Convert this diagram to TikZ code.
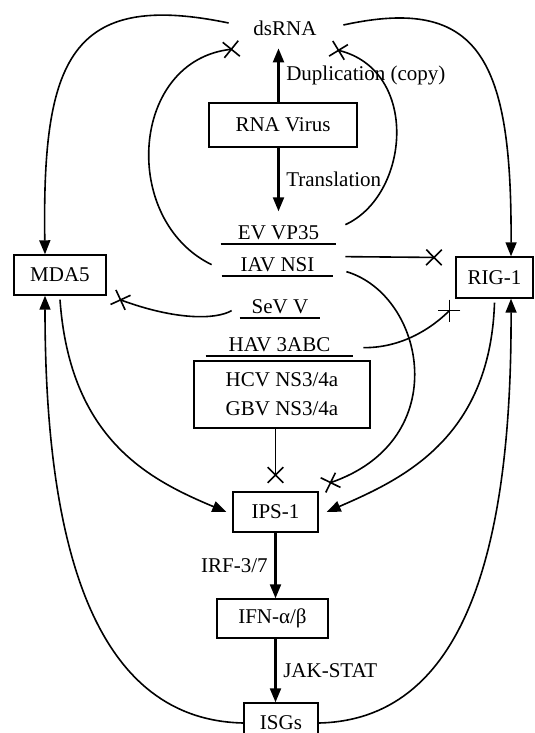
\documentclass[tikz,border=0pt]{standalone}
\usepackage{fontspec}
\setmainfont{Liberation Serif}
\usetikzlibrary{arrows.meta}

\tikzset{
  box/.style={draw, line width=0.7pt, inner sep=2pt},
  prot/.style={anchor=south, inner xsep=0pt, inner ysep=2pt, text depth=0pt,
    append after command={(\tikzlastnode.south west) edge[line width=0.9pt] (\tikzlastnode.south east)}},
  act/.style={-{Triangle[length=7pt,width=5.5pt]}, line width=0.8pt},
  inh/.style={-{Rays[n=4,length=11pt,width=11pt,line width=0.8pt]}, line width=0.8pt},
}

\begin{document}
\begin{tikzpicture}[font=\fontsize{10.5pt}{14.5pt}\selectfont, x=0.5pt, y=-0.5pt]
  \useasboundingbox (0,0) rectangle (535,733);
  % --- nodes ---
  \node[minimum width=45pt, minimum height=20pt] (dsrna) at (285,28) {dsRNA};
  \node[box, minimum width=74pt, minimum height=22pt] (virus) at (283,125) {RNA Virus};
  \node[prot, minimum width=57.5pt] (ev) at (278.5,244) {EV VP35};
  \node[prot, minimum width=55.5pt] (iav) at (277.5,276) {IAV NSI};
  \node[prot, minimum width=40pt] (sev) at (280,318) {SeV V};
  \node[prot, minimum width=73.5pt] (hav) at (279.5,356) {HAV 3ABC};
  \node[box, minimum width=88pt, minimum height=33.5pt, align=center] (hcv) at (282,394.5) {HCV NS3/4a\\GBV NS3/4a};
  \node[box, minimum width=46pt, minimum height=20pt] (mda) at (60,275) {MDA5};
  \node[box, minimum width=38.5pt, minimum height=20.5pt] (rig) at (494.5,277.5) {RIG-1};
  \node[box, minimum width=42.5pt, minimum height=20pt] (ips) at (275.5,512) {IPS-1};
  \node[box, minimum width=55.5pt, minimum height=19.5pt] (ifn) at (272.5,618.5) {IFN-α/β};
  \node[box, minimum width=37pt, minimum height=20pt] (isg) at (281,723) {ISGs};

  % --- virus ---
  \draw[act, line width=1.1pt] (virus.north -| ev) -- (dsrna.south -| ev) node[midway, right] {Duplication (copy)};
  \draw[act, line width=1.1pt] (virus.south -| ev) -- ([yshift=5pt]ev.north) node[midway, right] {Translation};

  % --- sensing ---
  \draw[act] ([shift={(-5.5pt,2.5pt)}]dsrna.west) .. controls (70,-10) and (42,60) .. ([xshift=-7.5pt]mda.north);
  \draw[act] ([shift={(6.5pt,1.5pt)}]dsrna.east) .. controls (480,-5) and (512,60) .. ([xshift=8.25pt]rig.north);
  \draw[act] ([yshift=-2pt]mda.south) .. controls (70,440) and (150,480) .. ([xshift=-3pt]ips.west);
  \draw[act] ([yshift=-2pt]rig.south) .. controls (490,440) and (400,480) .. ([xshift=4pt]ips.east);

  % --- viral antagonists ---
  \draw[inh] ([xshift=-5pt]iav.west) .. controls (120,220) and (130,60) .. (dsrna.south west);
  \draw[inh] ([shift={(4.5pt,4pt)}]ev.east) .. controls (410,195) and (420,70) .. (dsrna.south east);
  \draw[inh] ([shift={(6pt,4pt)}]iav.east) -- ([shift={(-6.5pt,10pt)}]rig.west);
  \draw[inh] ([shift={(6.5pt,-3.5pt)}]iav.east) .. controls (425,295) and (455,440) .. ([shift={(2pt,3pt)}]ips.north east);
  \draw[inh] ([shift={(-4pt,-2pt)}]sev.west) .. controls (215,320) and (175,320) .. ([shift={(3pt,-11pt)}]mda.east);
  \draw[inh] ([shift={(5pt,-1.5pt)}]hav.east) .. controls (400,348) and (430,330) .. ([yshift=-3pt]rig.south west);
  \draw[inh] (hcv.south -| ips) -- ([yshift=4pt]ips.north);

  % --- signalling ---
  \draw[act, line width=1.1pt] (ips.south) -- (ips.south |- ifn.north) node[midway, left] {IRF-3/7};
  \draw[act, line width=1.1pt] (ifn.south -| ips) -- (isg.north -| ips) node[midway, right] {JAK-STAT};
  \draw[act] (isg.west) .. controls (100,720) and (45,560) .. ([xshift=-7.5pt]mda.south);
  \draw[act] (isg.east) .. controls (460,720) and (512,560) .. ([xshift=8.25pt]rig.south);
\end{tikzpicture}
\end{document}
